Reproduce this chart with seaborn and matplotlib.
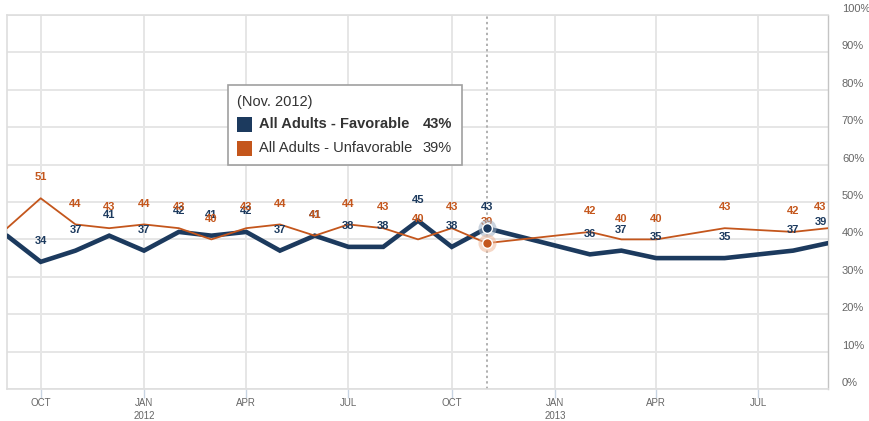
import matplotlib
matplotlib.use("Agg")
import matplotlib.pyplot as plt
import matplotlib.dates as mdates
from matplotlib.patches import Rectangle
from matplotlib.transforms import ScaledTranslation
import pandas as pd
import seaborn as sns

# ---- data ----
months = ['2011-09', '2011-10', '2011-11', '2011-12', '2012-01', '2012-02', '2012-03',
          '2012-04', '2012-05', '2012-06', '2012-07', '2012-08', '2012-09', '2012-10',
          '2012-11', '2013-02', '2013-03', '2013-04', '2013-06', '2013-08', '2013-09']
favorable = [41, 34, 37, 41, 37, 42, 41, 42, 37, 41, 38, 38, 45, 38, 43, 36, 37, 35, 35, 37, 39]
unfavorable = [43, 51, 44, 43, 44, 43, 40, 43, 44, 41, 44, 43, 40, 43, 39, 42, 40, 40, 43, 42, 43]

tick_dates = ['2011-10', '2012-01', '2012-04', '2012-07', '2012-10', '2013-01', '2013-04', '2013-07']
tick_labels = ['OCT', 'JAN\n2012', 'APR', 'JUL', 'OCT', 'JAN\n2013', 'APR', 'JUL']
y_ticks = [0, 10, 20, 30, 40, 50, 60, 70, 80, 90, 100]
y_tick_labels = [f'{v}%' for v in y_ticks]

highlight_month = '2012-11'
legend_title = '(Nov. 2012)'
series_names = ['All Adults - Favorable', 'All Adults - Unfavorable']

BLUE = '#1c3a5e'
ORANGE = '#c4561c'

df = pd.DataFrame({'date': pd.to_datetime(months),
                   'Favorable': favorable,
                   'Unfavorable': unfavorable})

sns.set_style('white')
plt.rcParams['font.family'] = ['Liberation Sans', 'DejaVu Sans']

W, H = 870, 421
fig = plt.figure(figsize=(W / 100, H / 100), dpi=100)
ax = fig.add_axes([7 / W, 1 - 389 / H, (828 - 7) / W, (389 - 15) / H])

x0 = pd.Timestamp('2011-09-01')
x1 = pd.Timestamp('2013-09-01')
ax.set_xlim(x0, x1)
ax.set_ylim(0, 100)

# grid
ax.set_axisbelow(True)
ax.grid(True, color='#e6e6e6', linewidth=1.4)

sns.lineplot(data=df, x='date', y='Favorable', color=BLUE, linewidth=3.3, ax=ax,
             solid_joinstyle='miter', zorder=3)
sns.lineplot(data=df, x='date', y='Unfavorable', color=ORANGE, linewidth=1.3, ax=ax,
             zorder=4)

# dotted crosshair at highlighted month
hd = pd.Timestamp(highlight_month)
ax.axvline(hd, color='#b0b0b0', linestyle=(0, (1.2, 1.6)), linewidth=1.4, zorder=2)

# data labels
for col, color in (('Favorable', BLUE), ('Unfavorable', ORANGE)):
    for d, v in zip(df['date'], df[col]):
        if d <= x0:
            continue
        if d >= x1:
            ax.annotate(str(v), xy=(x1, v), xytext=(-1, 15), textcoords='offset points',
                        ha='right', va='center', fontsize=8, fontweight='bold',
                        color=color, zorder=6)
        else:
            ax.annotate(str(v), xy=(d, v), xytext=(0, 15), textcoords='offset points',
                        ha='center', va='center', fontsize=8, fontweight='bold',
                        color=color, zorder=6)

# highlighted markers
hi = df[df['date'] == hd].iloc[0]
for col, color, halo in (('Favorable', BLUE, '#9fb0c4'), ('Unfavorable', ORANGE, '#efb89a')):
    ax.plot([hd], [hi[col]], 'o', markersize=13, color=halo, alpha=0.55, zorder=7,
            markeredgewidth=0)
    ax.plot([hd], [hi[col]], 'o', markersize=7, color=color, markeredgecolor='white',
            markeredgewidth=1.0, zorder=8)

# axes styling
ax.set_xlabel('')
ax.set_ylabel('')
ax.set_xticks(pd.to_datetime(tick_dates))
ax.set_xticklabels(tick_labels, fontsize=7, color='#666666', linespacing=1.35)
ax.tick_params(axis='x', length=6.3, width=1, color='#c8d4e2', pad=0.5, bottom=True)
ax.yaxis.tick_right()
ax.set_yticks(y_ticks)
ax.set_yticklabels(y_tick_labels, fontsize=8, color='#666666')
ax.tick_params(axis='y', length=0, pad=10)
shift = ScaledTranslation(0, 5 / 72, fig.dpi_scale_trans)
for lab in ax.get_yticklabels():
    lab.set_transform(lab.get_transform() + shift)

for side in ('left', 'top', 'bottom'):
    ax.spines[side].set_color('#dedede')
    ax.spines[side].set_linewidth(1.2)
ax.spines['right'].set_color('#c4c4c4')
ax.spines['right'].set_linewidth(1.0)

# tooltip-style legend box
def fx(px):
    return px / W

def fy(py):
    return 1 - py / H

box = Rectangle((fx(228), fy(165)), fx(462) - fx(228), fy(85) - fy(165),
                transform=fig.transFigure, facecolor='white', edgecolor='#a0a0a0',
                linewidth=1.2, zorder=20)
fig.patches.append(box)
fig.text(fx(237), fy(102), legend_title, fontsize=10.5, color='#333333', va='center',
         ha='left', zorder=21)
vals = [favorable[months.index(highlight_month)], unfavorable[months.index(highlight_month)]]
for i, (name, color, val) in enumerate(zip(series_names, (BLUE, ORANGE), vals)):
    cy = 124 + i * 24
    sw = Rectangle((fx(237), fy(cy + 8)), fx(252) - fx(237), fy(cy - 7) - fy(cy + 8),
                   transform=fig.transFigure, facecolor=color, edgecolor='none', zorder=21)
    fig.patches.append(sw)
    weight = 'bold' if i == 0 else 'normal'
    fig.text(fx(259), fy(cy), name, fontsize=10.5, color='#333333', va='center',
             ha='left', fontweight=weight, zorder=22)
    fig.text(fx(452), fy(cy), f'{val}%', fontsize=10.5, color='#333333', va='center',
             ha='right', fontweight=weight, zorder=22)

fig.savefig('out.png', dpi=100)
